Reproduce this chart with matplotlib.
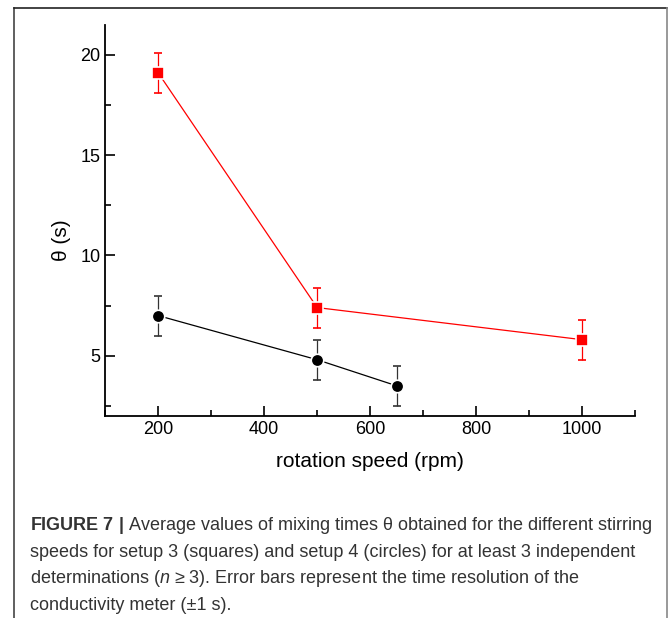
import matplotlib
matplotlib.use('Agg')
import matplotlib.pyplot as plt
from matplotlib.lines import Line2D
from matplotlib.ticker import MultipleLocator

# setup 3 (squares)
speed_sq = [200, 500, 1000]
theta_sq = [19.1, 7.4, 5.8]
# setup 4 (circles)
speed_ci = [200, 500, 650]
theta_ci = [7.0, 4.8, 3.5]
err = 1.0

caption = [
    r"$\mathbf{FIGURE\ 7\ |}$ Average values of mixing times θ obtained for the different stirring",
    "speeds for setup 3 (squares) and setup 4 (circles) for at least 3 independent",
    "determinations ($\\mathit{n}$ ≥ 3). Error bars represent the time resolution of the",
    "conductivity meter (±1 s).",
]


def main():
    plt.rcParams['font.family'] = ['Liberation Sans', 'DejaVu Sans']
    plt.rcParams['mathtext.fontset'] = 'custom'
    plt.rcParams['mathtext.rm'] = 'Liberation Sans'
    plt.rcParams['mathtext.bf'] = 'Liberation Sans:bold'
    plt.rcParams['mathtext.it'] = 'Liberation Sans:italic'

    fig = plt.figure(figsize=(6.7, 6.18), dpi=100)
    ax = fig.add_axes([0.157, 0.327, 0.791, 0.633])

    ax.errorbar(speed_sq, theta_sq, yerr=err, color='red', lw=0.9, marker='s',
                ms=8, mec='white', mew=1.2, capsize=3, elinewidth=0.9, capthick=0.9)
    ax.errorbar(speed_ci, theta_ci, yerr=err, color='black', lw=0.9, marker='o',
                ms=9, mec='white', mew=1.2, capsize=3, elinewidth=0.9, capthick=0.9,
                ecolor='#333333')

    ax.set_xlim(100, 1100)
    ax.set_ylim(2, 21.5)
    ax.xaxis.set_major_locator(MultipleLocator(200))
    ax.xaxis.set_minor_locator(MultipleLocator(100))
    ax.yaxis.set_major_locator(MultipleLocator(5))
    ax.yaxis.set_minor_locator(MultipleLocator(2.5))
    ax.tick_params(which='both', direction='in', width=1.2, labelsize=13)
    ax.tick_params(which='major', length=7)
    ax.tick_params(which='minor', length=4)
    ax.spines['top'].set_visible(False)
    ax.spines['right'].set_visible(False)
    ax.spines['left'].set_linewidth(1.3)
    ax.spines['bottom'].set_linewidth(1.3)
    ax.set_xlabel('rotation speed (rpm)', fontsize=15, labelpad=10)
    ax.set_ylabel('θ (s)', fontsize=15)
    ax.yaxis.set_label_coords(-0.065, 0.45)

    # frame around chart and caption (open at bottom)
    fig.add_artist(Line2D([0.021, 0.021], [0, 0.987], transform=fig.transFigure,
                          color='#444444', lw=1.2))
    fig.add_artist(Line2D([0.021, 0.995], [0.987, 0.987], transform=fig.transFigure,
                          color='#222222', lw=1.2))
    fig.add_artist(Line2D([0.995, 0.995], [0, 0.987], transform=fig.transFigure,
                          color='#888888', lw=1.2))

    y = 0.142
    for line in caption:
        fig.text(0.045, y, line, fontsize=13, color='#333333', va='baseline')
        y -= 0.043

    plt.savefig('out.png', dpi=100)


if __name__ == '__main__':
    main()
